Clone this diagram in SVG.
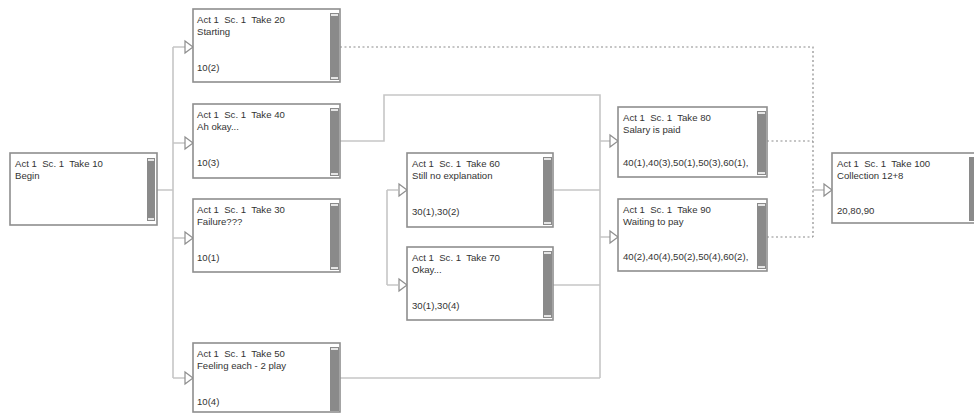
<svg xmlns="http://www.w3.org/2000/svg" width="974" height="414" viewBox="0 0 974 414">
<style>
.box{fill:#fff;stroke:#8e8e8e;stroke-width:1.6}
.bar{fill:#8a8a8a}
.btn{fill:#e6e6e6}
.t{font-family:"Liberation Sans",Arial,sans-serif;font-size:9.6px;fill:#333;white-space:pre}
.c{fill:none;stroke:#c6c6c6;stroke-width:1.6}
.d{fill:none;stroke:#8c8c8c;stroke-width:1.2;stroke-dasharray:2 2.5}
.arr{fill:#fff;stroke:#8e8e8e;stroke-width:1.2}
</style>
<rect width="974" height="414" fill="#fff"/>
<g id="connectors">
<path class="c" d="M157 190H173M173 47V378M173 47H185M173 143H185M173 238H185M173 378H185"/>
<path class="c" d="M340 141H384V95H600V378M600 141H610M600 237H610M553 190H600M553 285H600M340 378H600"/>
<path class="c" d="M387 190V285M387 190H398M387 285H398"/>
<path class="d" d="M340 47H813V237M767 141H813M767 237H813"/>
<path class="c" d="M813 190H824"/>
<polygon class="arr" points="185,41 193,47 185,53"/>
<polygon class="arr" points="185,137 193,143 185,149"/>
<polygon class="arr" points="185,232 193,238 185,244"/>
<polygon class="arr" points="185,372 193,378 185,384"/>
<polygon class="arr" points="399,184 407,190 399,196"/>
<polygon class="arr" points="399,279 407,285 399,291"/>
<polygon class="arr" points="610,135 618,141 610,147"/>
<polygon class="arr" points="610,231 618,237 610,243"/>
<polygon class="arr" points="824,184 832,190 824,196"/>
</g>
<g id="take10">
<rect class="box" x="10" y="153" width="147" height="72"/>
<rect class="bar" x="147" y="158" width="8" height="63"/>
<rect class="btn" x="148" y="159" width="6" height="2"/><rect class="btn" x="148" y="218" width="6" height="2"/>
<text class="t" x="15" y="167">Act 1  Sc. 1  Take 10</text>
<text class="t" x="15" y="179">Begin</text>
</g>
<g id="take20">
<rect class="box" x="193" y="9" width="147" height="73"/>
<rect class="bar" x="330" y="13" width="9" height="67"/>
<rect class="btn" x="331" y="14" width="7" height="2"/><rect class="btn" x="331" y="77" width="7" height="2"/>
<text class="t" x="197" y="23">Act 1  Sc. 1  Take 20</text>
<text class="t" x="197" y="35">Starting</text>
<text class="t" x="197" y="71">10(2)</text>
</g>
<g id="take40">
<rect class="box" x="193" y="104" width="147" height="74"/>
<rect class="bar" x="330" y="108" width="9" height="68"/>
<rect class="btn" x="331" y="109" width="7" height="2"/><rect class="btn" x="331" y="173" width="7" height="2"/>
<text class="t" x="197" y="118">Act 1  Sc. 1  Take 40</text>
<text class="t" x="197" y="130">Ah okay...</text>
<text class="t" x="197" y="166">10(3)</text>
</g>
<g id="take30">
<rect class="box" x="193" y="199" width="147" height="73"/>
<rect class="bar" x="330" y="203" width="9" height="67"/>
<rect class="btn" x="331" y="204" width="7" height="2"/><rect class="btn" x="331" y="267" width="7" height="2"/>
<text class="t" x="197" y="213">Act 1  Sc. 1  Take 30</text>
<text class="t" x="197" y="225">Failure???</text>
<text class="t" x="197" y="261">10(1)</text>
</g>
<g id="take50">
<rect class="box" x="193" y="343" width="147" height="69"/>
<rect class="bar" x="330" y="347" width="9" height="64"/>
<rect class="btn" x="331" y="348" width="7" height="2"/>
<text class="t" x="197" y="357">Act 1  Sc. 1  Take 50</text>
<text class="t" x="197" y="369">Feeling each - 2 play</text>
<text class="t" x="197" y="405">10(4)</text>
</g>
<g id="take60">
<rect class="box" x="407" y="153" width="146" height="74"/>
<rect class="bar" x="543" y="157" width="9" height="68"/>
<rect class="btn" x="544" y="158" width="7" height="2"/><rect class="btn" x="544" y="222" width="7" height="2"/>
<text class="t" x="412" y="167">Act 1  Sc. 1  Take 60</text>
<text class="t" x="412" y="179">Still no explanation</text>
<text class="t" x="412" y="215">30(1),30(2)</text>
</g>
<g id="take70">
<rect class="box" x="407" y="247" width="146" height="73"/>
<rect class="bar" x="543" y="251" width="9" height="67"/>
<rect class="btn" x="544" y="252" width="7" height="2"/><rect class="btn" x="544" y="315" width="7" height="2"/>
<text class="t" x="412" y="261">Act 1  Sc. 1  Take 70</text>
<text class="t" x="412" y="273">Okay...</text>
<text class="t" x="412" y="309">30(1),30(4)</text>
</g>
<g id="take80">
<rect class="box" x="618" y="107" width="149" height="70"/>
<rect class="bar" x="757" y="111" width="9" height="64"/>
<rect class="btn" x="758" y="112" width="7" height="2"/><rect class="btn" x="758" y="172" width="7" height="2"/>
<text class="t" x="623" y="121">Act 1  Sc. 1  Take 80</text>
<text class="t" x="623" y="133">Salary is paid</text>
<text class="t" x="623" y="166">40(1),40(3),50(1),50(3),60(1),</text>
</g>
<g id="take90">
<rect class="box" x="618" y="199" width="149" height="72"/>
<rect class="bar" x="757" y="203" width="9" height="66"/>
<rect class="btn" x="758" y="204" width="7" height="2"/><rect class="btn" x="758" y="266" width="7" height="2"/>
<text class="t" x="623" y="213">Act 1  Sc. 1  Take 90</text>
<text class="t" x="623" y="225">Waiting to pay</text>
<text class="t" x="623" y="260">40(2),40(4),50(2),50(4),60(2),</text>
</g>
<g id="take100">
<rect class="box" x="832" y="153" width="148" height="70"/>
<rect class="bar" x="969" y="157" width="9" height="64"/>
<text class="t" x="837" y="167">Act 1  Sc. 1  Take 100</text>
<text class="t" x="837" y="179">Collection 12+8</text>
<text class="t" x="837" y="214">20,80,90</text>
</g>
</svg>
